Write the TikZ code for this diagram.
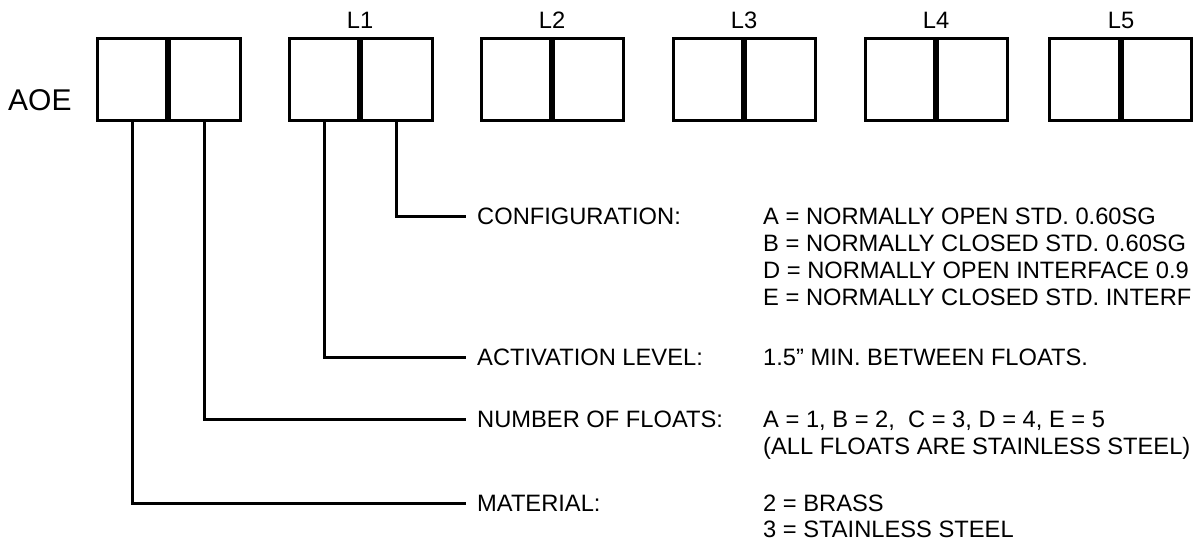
\documentclass[tikz,border=0pt]{standalone}
\usepackage{fontspec}
\setmainfont{Liberation Sans}
\begin{document}
\begin{tikzpicture}[x=1pt,y=-1pt,
  cell/.style={draw,line width=3pt,minimum height=82pt,inner sep=0pt,outer sep=0pt,minimum width=#1},
  divider/.style={line width=6pt},
  conn/.style={line width=3pt,line join=miter},
  txt/.style={font=\fontsize{23.7}{27}\selectfont,text height=17pt,text depth=0pt},
  head/.style={txt,anchor=west,inner xsep=11pt,inner ysep=0pt},
  val/.style={txt,anchor=west,inner sep=0pt},
  lvl/.style={font=\fontsize{23.7}{27}\selectfont,anchor=base,inner sep=0pt}]
\useasboundingbox (0,0) rectangle (1197,542);
% boxes
\foreach \n/\l/\m/\r in {a/97/168/240, b/289/360/432, c/481/552/623, d/673/744/815, e/865/936/1007, f/1049/1121/1191}{
  \node[cell={(\m-\l)*1pt}] (\n1) at ({(\l+\m)/2},79) {};
  \node[cell={(\r-\m)*1pt}] (\n2) at ({(\m+\r)/2},79) {};
  \draw[divider] (\n1.north east) -- (\n1.south east);
}
% labels
\node[font=\fontsize{30}{34}\selectfont,anchor=base west,inner sep=0pt] (aoe) at (8,110) {AOE};
\node[lvl] (l1) at (360,28) {L1};
\node[lvl] (l2) at (552,28) {L2};
\node[lvl] (l3) at (744,28) {L3};
\node[lvl] (l4) at (936,28) {L4};
\node[lvl] (l5) at (1121,28) {L5};
% headings
\node[head] (cfg) at (466,216) {CONFIGURATION:};
\node[head] (act) at (466,357) {ACTIVATION LEVEL:};
\node[head] (num) at (466,419) {NUMBER OF FLOATS:};
\node[head] (mat) at (466,503) {MATERIAL:};
% values
\node[val] (cfga) at (763,216) {A = NORMALLY OPEN STD. 0.60SG};
\node[val] (cfgb) at (763,243) {B = NORMALLY CLOSED STD. 0.60SG};
\node[val] (cfgd) at (763,270) {D = NORMALLY OPEN INTERFACE 0.9};
\node[val] (cfge) at (763,297) {E = NORMALLY CLOSED STD. INTERF};
\node[val] (acta) at (763,357) {1.5” MIN. BETWEEN FLOATS.};
\node[val] (numa) at (763,419) {A = 1, B = 2, \ C = 3, D = 4, E = 5};
\node[val] (numb) at (763,446) {(ALL FLOATS ARE STAINLESS STEEL)};
\node[val] (mata) at (763,503) {2 = BRASS};
\node[val] (matb) at (763,529) {3 = STAINLESS STEEL};
% connectors
\draw[conn] (b2.south) |- (cfg.west);
\draw[conn] (b1.south) |- (act.west);
\draw[conn] (a2.south) |- (num.west);
\draw[conn] (a1.south) |- (mat.west);
\end{tikzpicture}
\end{document}
